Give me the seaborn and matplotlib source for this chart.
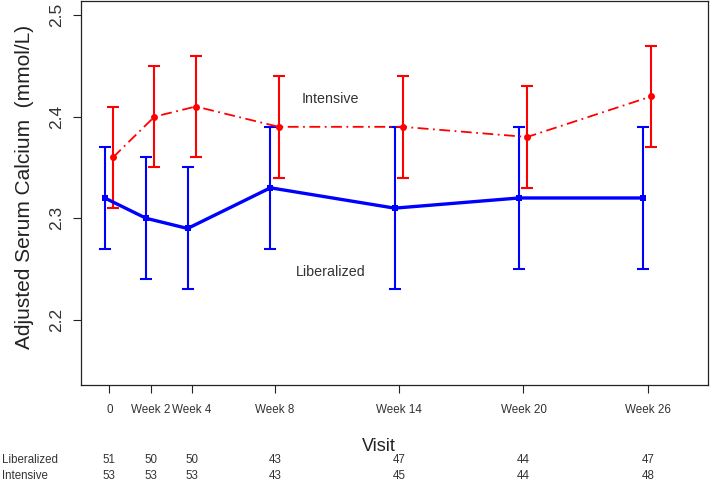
import numpy as np
import pandas as pd
import seaborn as sns
import matplotlib
matplotlib.use("Agg")
import matplotlib.pyplot as plt
from matplotlib.transforms import blended_transform_factory

# ---- data ----
weeks = [0, 2, 4, 8, 14, 20, 26]
tick_labels = ["0", "Week 2", "Week 4", "Week 8", "Week 14", "Week 20", "Week 26"]
lib_mean = [2.32, 2.30, 2.29, 2.33, 2.31, 2.32, 2.32]
lib_low = [2.27, 2.24, 2.23, 2.27, 2.23, 2.25, 2.25]
lib_high = [2.37, 2.36, 2.35, 2.39, 2.39, 2.39, 2.39]
int_mean = [2.36, 2.40, 2.41, 2.39, 2.39, 2.38, 2.42]
int_low = [2.31, 2.35, 2.36, 2.34, 2.34, 2.33, 2.37]
int_high = [2.41, 2.45, 2.46, 2.44, 2.44, 2.43, 2.47]
n_lib = [51, 50, 50, 43, 47, 44, 47]
n_int = [53, 53, 53, 43, 45, 44, 48]
y_ticks = [2.2, 2.3, 2.4, 2.5]

sns.set_theme(style="white")
plt.rcParams["font.family"] = ["Liberation Sans", "DejaVu Sans"]

fig = plt.figure(figsize=(7.10, 4.83), dpi=100)
ax = fig.add_axes([81 / 710, 1 - 385 / 483, (708 - 81) / 710, (385 - 1) / 483])

lib_x = np.array(weeks) - 0.22
int_x = np.array(weeks) + 0.18
df_lib = pd.DataFrame({"x": lib_x, "y": lib_mean})
df_int = pd.DataFrame({"x": int_x, "y": int_mean})

BLUE = "#0000ff"
RED = "#ff0000"

# error bars
ax.errorbar(lib_x, lib_mean,
            yerr=[np.array(lib_mean) - np.array(lib_low), np.array(lib_high) - np.array(lib_mean)],
            fmt="none", ecolor=BLUE, elinewidth=1.5, capsize=4.6, capthick=1.5, zorder=2)
ax.errorbar(int_x, int_mean,
            yerr=[np.array(int_mean) - np.array(int_low), np.array(int_high) - np.array(int_mean)],
            fmt="none", ecolor=RED, elinewidth=1.5, capsize=4.6, capthick=1.5, zorder=2)

sns.lineplot(data=df_lib, x="x", y="y", ax=ax, color=BLUE, linewidth=2.4,
             marker="s", markersize=5, markeredgewidth=0, sort=False, zorder=3)
sns.lineplot(data=df_int, x="x", y="y", ax=ax, color=RED, linewidth=1.3,
             linestyle=(0, (6, 2.5, 1, 2.5)),
             marker="o", markersize=5, markeredgewidth=0, sort=False, zorder=3)

ax.text(10.69, 2.417, "Intensive", ha="center", va="center", fontsize=10.3, color="#333333")
ax.text(10.69, 2.2475, "Liberalized", ha="center", va="center", fontsize=10.3, color="#333333")

ax.set_xlim(-1.367, 28.91)
ax.set_ylim(2.136, 2.5138)
ax.set_xticks(weeks)
ax.set_xticklabels(tick_labels, fontsize=8.4, color="#333333")
ax.set_yticks(y_ticks)
ax.set_yticklabels([f"{v:.1f}" for v in y_ticks], rotation=90, va="center",
                   fontsize=12.5, color="#333333")

for s in ax.spines.values():
    s.set_visible(True)
    s.set_color("#222222")
    s.set_linewidth(0.9)

ax.tick_params(axis="x", direction="out", length=6, width=0.8, color="#222222",
               pad=7.5, bottom=True)
ax.tick_params(axis="y", direction="out", length=6, width=0.8, color="#222222",
               pad=6, left=True)

ax.set_xlabel("")
ax.set_ylabel("Adjusted Serum Calcium  (mmol/L)", fontsize=15, color="#222222", labelpad=8)
ax.yaxis.set_label_coords(-(81 - 25) / 627, 0.516)
ax.yaxis.label.set_va("center")

# Visit label and at-risk table
tr = blended_transform_factory(ax.transData, fig.transFigure)
ax.text(13, 1 - 446.7 / 483, "Visit", transform=tr, ha="center", va="center",
        fontsize=13, color="#222222")
fig.text(2 / 710, 1 - 460 / 483, "Liberalized", ha="left", va="center", fontsize=8.3, color="#333333")
fig.text(2 / 710, 1 - 476 / 483, "Intensive", ha="left", va="center", fontsize=8.3, color="#333333")
for w, a, b in zip(weeks, n_lib, n_int):
    ax.text(w, 1 - 460 / 483, str(a), transform=tr, ha="center", va="center", fontsize=8.3, color="#333333")
    ax.text(w, 1 - 476 / 483, str(b), transform=tr, ha="center", va="center", fontsize=8.3, color="#333333")

fig.savefig("out.png", dpi=100)
